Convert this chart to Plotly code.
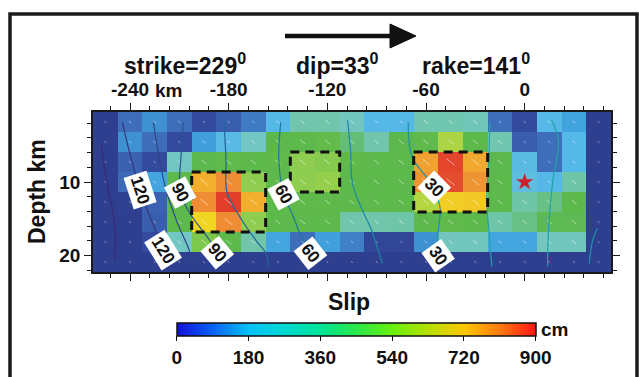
import math
import plotly.graph_objects as go

# ---------------------------------------------------------------------------
# Finite-fault model: subfault grid (15 km along strike x 5 km down dip)
# ---------------------------------------------------------------------------
strike_km = [-255, -240, -225, -210, -195, -180, -165, -150, -135, -120, -105,
             -90, -75, -60, -45, -30, -15, 0, 15, 30, 45]
depth_km = [1.83, 4.55, 7.28, 10.00, 12.72, 15.45, 18.17, 20.89]

# Slip on each subfault (cm), shallowest row first
slip_cm = [
    [10, 100, 140, 100, 40, 72, 115, 200, 330, 330, 290, 200, 200, 320, 320, 300, 100, 40, 200, 165, 10],
    [10, 140, 100, 40, 160, 205, 280, 450, 460, 480, 400, 330, 450, 470, 600, 460, 320, 70, 100, 200, 10],
    [10, 80, 40, 280, 450, 470, 460, 470, 560, 550, 470, 460, 460, 760, 870, 750, 450, 210, 100, 200, 10],
    [10, 95, 170, 460, 740, 790, 560, 460, 560, 570, 460, 460, 460, 780, 860, 780, 460, 220, 200, 340, 10],
    [10, 15, 80, 460, 790, 880, 740, 460, 470, 470, 460, 460, 460, 610, 690, 700, 460, 340, 380, 460, 10],
    [10, 10, 72, 460, 680, 790, 560, 460, 460, 460, 330, 330, 340, 460, 470, 460, 340, 380, 440, 440, 10],
    [10, 10, 40, 280, 540, 460, 330, 170, 100, 160, 120, 30, 30, 140, 290, 290, 170, 170, 290, 290, 10],
    [10, 10, 10, 10, 10, 10, 10, 10, 10, 10, 10, 10, 10, 10, 10, 10, 10, 10, 10, 10, 10],
]

STRIKE, DIP, RAKE = 229, 33, 141

# Hypocentre (km along strike, depth km)
hypo_km, hypo_depth = [0], [10]

# Asperity outlines: (strike from, strike to, depth from, depth to)
asperities = [
    (-202.5, -157.5, 8.64, 16.81),
    (-142.5, -112.5, 5.92, 11.36),
    (-67.5, -22.5, 5.92, 14.08),
]

# Rupture-time contours (s): strike km, depth km
rupture_contours = [
    (15, [-21.2, -21.8, -23.0, -21.2, -20.0], [1.87, 7.05, 12.49, 17.94, 21.48]),
    (15, [16.3, 20.6, 16.9, 14.5, 13.9], [1.60, 4.32, 10.18, 16.58, 21.48]),
    (30, [44.2, 41.2, 39.3], [16.30, 18.07, 21.07]),
    (30, [-70.8, -68.4, -57.5, -51.5, -52.7, -53.3, -54.5], [1.87, 6.64, 10.04, 13.44, 17.00, 19.98, 21.61]),
    (45, [-107.7, -105.9, -104.7, -98.7, -93.8, -86.6], [1.60, 5.69, 10.18, 13.85, 16.17, 21.07]),
    (60, [-148.3, -149.5, -146.5, -141.0, -136.2, -130.1, -127.7], [1.87, 7.05, 11.68, 14.53, 17.26, 19.71, 21.48]),
    (75, [-182.8, -181.6, -181.0, -171.9, -163.4, -157.4, -155.6], [1.87, 7.05, 11.40, 15.21, 17.94, 19.71, 21.48]),
    (90, [-207.6, -208.8, -209.4, -202.8, -193.7, -187.0, -184.6], [1.87, 5.96, 11.40, 14.53, 17.26, 19.57, 21.48]),
    (105, [-225.8, -222.8, -218.5, -211.3, -204.0, -201.6], [1.87, 5.96, 10.72, 15.49, 19.30, 21.48]),
    (120, [-244.6, -240.3, -233.7, -227.0, -219.7, -217.9], [1.87, 5.96, 11.13, 15.21, 19.30, 21.48]),
    (135, [-257.3, -253.6, -250.6, -248.8, -249.4], [5.00, 10.72, 13.85, 17.53, 20.66]),
]
contour_colors = {15: "#1fa3a8", 30: "#1b94a6", 45: "#1d86a3", 60: "#1f77a0", 75: "#22669a",
                  90: "#275592", 105: "#2c4589", 120: "#33367f", 135: "#3a2a78"}

# Contour labels: text, strike km, depth km, text angle
contour_labels = [
    ("120", -233.7, 11.13, 72), ("90", -209.4, 11.40, 62), ("60", -146.5, 11.68, 62),
    ("30", -55.0, 10.70, 45),
    ("120", -219.7, 19.30, 58), ("90", -187.0, 19.57, 50), ("60", -130.1, 19.71, 52),
    ("30", -52.7, 19.98, 55),
]

# Axis ticks
x_ticks = [-240, -180, -120, -60, 0]
x_ticktext = ["-240", "-180", "-120", "-60", "0"]
y_ticks = [10, 20]
cbar_ticks = [0, 180, 360, 540, 720, 900]

# ---------------------------------------------------------------------------
FONT = "Liberation Sans, Arial, sans-serif"
W, H = 639, 377
ML, MR, MT, MB = 93, 28, 112, 105
PW, PH = W - ML - MR, H - MT - MB
X_RANGE = [-262.5, 52.5]
Y_RANGE = [22.25, 0.47]


def px(x):
    return (x - ML) / PW


def py(y):
    return (MT + PH - y) / PH


slip_scale = [
    [0.00, "#2c3b8b"], [0.04, "#33489a"], [0.08, "#3a5eae"], [0.11, "#3e6cb8"],
    [0.15, "#3f8ed0"], [0.18, "#41a1dd"], [0.22, "#55b8e8"], [0.30, "#74c7c6"],
    [0.38, "#6fc5a6"], [0.50, "#5cb84c"], [0.56, "#66bd4a"], [0.62, "#8ccd50"],
    [0.68, "#b5d640"], [0.75, "#f0d820"], [0.82, "#f2b02e"], [0.88, "#ee8c34"],
    [0.95, "#e4502e"], [1.00, "#e0302a"],
]
bar_scale = [
    [0.00, "#1410dc"], [0.10, "#0a62f5"], [0.20, "#05c2f8"], [0.30, "#00d8d2"],
    [0.40, "#00e496"], [0.50, "#2ae84a"], [0.60, "#68f010"], [0.70, "#b6e000"],
    [0.80, "#fcc800"], [0.90, "#ff7a10"], [1.00, "#ff1414"],
]

fig = go.Figure()

fig.add_trace(go.Heatmap(
    x=strike_km, y=depth_km, z=slip_cm, zmin=0, zmax=900,
    colorscale=slip_scale, showscale=False, hoverinfo="skip",
))

# Slip vectors (length scaled by slip, oriented by rake)
kx = PW / (X_RANGE[1] - X_RANGE[0])
ky = PH / (Y_RANGE[0] - Y_RANGE[1])
r = math.radians(RAKE)
vx, vy = [], []
for i, d in enumerate(depth_km):
    for j, s in enumerate(strike_km):
        L = 2 + 9 * slip_cm[i][j] / 900.0
        dx = 0.5 * L * math.cos(r) / kx
        dy = 0.5 * L * math.sin(r) / ky
        vx += [s - dx, s + dx, None]
        vy += [d + dy, d - dy, None]
fig.add_trace(go.Scatter(x=vx, y=vy, mode="lines", hoverinfo="skip",
                         line=dict(color="rgba(255,255,255,0.5)", width=1)))

for t, cx, cy in rupture_contours:
    fig.add_trace(go.Scatter(x=cx, y=cy, mode="lines", hoverinfo="skip",
                             line=dict(color=contour_colors[t], width=1.2, shape="spline")))

fig.add_trace(go.Scatter(x=hypo_km, y=hypo_depth, mode="markers", hoverinfo="skip",
                         marker=dict(symbol="star", size=13, color="#cc2028", line=dict(width=0))))

# colour bar (carried by an invisible marker trace)
fig.add_trace(go.Scatter(
    x=[strike_km[0]], y=[depth_km[0]], mode="markers", hoverinfo="skip",
    marker=dict(size=1, opacity=0, color=[0], cmin=0, cmax=900, colorscale=bar_scale, showscale=True,
                colorbar=dict(
                    orientation="h", x=px(356.2), xanchor="center", y=py(323), yanchor="top",
                    lenmode="pixels", len=359, thickness=13, xpad=0, ypad=0,
                    outlinecolor="#111111", outlinewidth=1.5,
                    tickvals=cbar_ticks, ticks="outside", ticklen=5, tickcolor="#111111",
                    tickfont=dict(family=FONT, size=19, color="#111111", weight="bold"),
                )),
))

shapes = []
for x0, x1, y0, y1 in asperities:
    shapes.append(dict(type="rect", xref="x", yref="y", x0=x0, x1=x1, y0=y0, y1=y1,
                       line=dict(color="#111111", width=3, dash="9px,6px")))
# outer frame
shapes.append(dict(type="rect", xref="paper", yref="paper", x0=px(10), x1=px(637),
                   y0=py(395), y1=py(14), line=dict(color="#1a1a1a", width=3.5)))
# direction arrow
shapes.append(dict(type="line", xref="paper", yref="paper", x0=px(285), x1=px(394),
                   y0=py(36), y1=py(36), line=dict(color="#111111", width=4.5)))
shapes.append(dict(type="path", xref="paper", yref="paper",
                   path=f"M {px(390)},{py(24)} L {px(416)},{py(36)} L {px(390)},{py(48)} Z",
                   fillcolor="#111111", line=dict(color="#111111", width=1)))

bold = dict(family=FONT, color="#111111", weight="bold")
annotations = []
for txt, ax_, ay_, ang in contour_labels:
    annotations.append(dict(x=ax_, y=ay_, xref="x", yref="y", text=txt, showarrow=False,
                            textangle=ang, bgcolor="white", borderpad=2,
                            font=dict(size=17, **bold)))


def paper_text(x, y, text, size, angle=0):
    return dict(x=px(x), y=py(y), xref="paper", yref="paper", showarrow=False,
                xanchor="center", yanchor="middle", text=text, textangle=angle,
                font=dict(size=size, **bold))


annotations += [
    paper_text(185, 64, f"strike={STRIKE}<sup>0</sup>", 23),
    paper_text(337, 64, f"dip={DIP}<sup>0</sup>", 23),
    paper_text(476, 64, f"rake={RAKE}<sup>0</sup>", 23),
    paper_text(168, 91, "km", 19),
    paper_text(37, 192, "Depth km", 23, -90),
    paper_text(349, 302, "Slip", 23),
    paper_text(554, 329, "cm", 19),
]

axis_common = dict(showline=True, linecolor="#1a1a1a", linewidth=1.5, mirror="ticks",
                   ticks="outside", ticklen=7, tickwidth=1, tickcolor="#1a1a1a",
                   showgrid=False, zeroline=False,
                   tickfont=dict(size=19, **bold))

fig.update_layout(
    width=W, height=H, margin=dict(l=ML, r=MR, t=MT, b=MB, autoexpand=False),
    paper_bgcolor="white", plot_bgcolor="white", showlegend=False,
    xaxis=dict(range=X_RANGE, side="top", tickvals=x_ticks, ticktext=x_ticktext,
               minor=dict(dtick=12, tick0=0, ticklen=4, ticks="outside", tickcolor="#1a1a1a"),
               **axis_common),
    yaxis=dict(range=Y_RANGE, tickvals=y_ticks,
               minor=dict(dtick=2, tick0=0, ticklen=4, ticks="outside", tickcolor="#1a1a1a"),
               **axis_common),
    shapes=shapes, annotations=annotations,
)

fig.write_html("out.html")
